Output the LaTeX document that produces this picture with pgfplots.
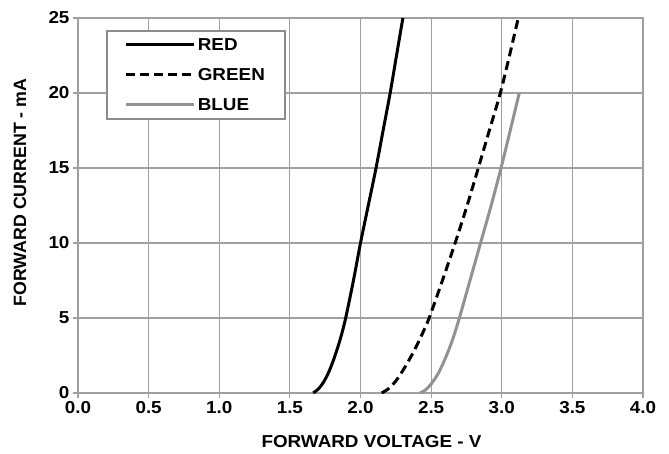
\documentclass[border=0pt]{standalone}
\usepackage{pgfplots}
\pgfplotsset{compat=1.18}
\usepackage{fontspec}
\setmainfont{Liberation Sans}[FakeStretch=1.09]
\newfontfamily\ylabfont{Liberation Sans}
\definecolor{gridgray}{HTML}{A0A0A0}
\definecolor{bluegray}{HTML}{929292}
\definecolor{leggray}{HTML}{8C8C8C}
\begin{document}
\begin{tikzpicture}
\begin{axis}[
  at={(0,0)}, anchor=south west,
  scale only axis, width=565bp, height=375bp,
  xmin=0, xmax=4, ymin=0, ymax=25,
  xtick={0,0.5,1,1.5,2,2.5,3,3.5,4},
  ytick={0,5,10,15,20,25},
  xtick pos=left, ytick pos=left,
  grid=major,
  major grid style={gridgray, line width=1.2bp},
  axis line style={gridgray, line width=1.2bp},
  tick style={gridgray, line width=1.2bp},
  tick align=outside, major tick length=5bp,
  font=\fontsize{17.3bp}{20bp}\selectfont\bfseries,
  /pgf/number format/assume math mode=true,
  xticklabel style={/pgf/number format/.cd, fixed, fixed zerofill, precision=1},
  xlabel={FORWARD VOLTAGE - V},
  ylabel={\ylabfont\fontsize{17.8bp}{20bp}\selectfont\bfseries FORWARD CURRENT - mA},
  xlabel style={at={(axis description cs:0.5195,-0.130)}, anchor=center},
  ylabel style={at={(axis description cs:-0.1027,0.5347)}, anchor=center},
  legend cell align=left,
  legend image code/.code={\draw[#1] (0bp,0bp) -- (68bp,0bp);},
  legend style={at={(axis description cs:0.0496,0.968)}, anchor=north west,
    draw=leggray, line width=1.6bp, fill=white,
    inner xsep=18bp, inner ysep=5.5bp, row sep=12.5bp,
    /tikz/every even column/.append style={column sep=3bp},
    font=\fontsize{17.3bp}{20bp}\selectfont\bfseries},
]
\addplot[black, line width=3bp, smooth, tension=0.5] coordinates {
 (1.665,0) (1.70,0.25) (1.74,0.75) (1.78,1.5) (1.82,2.5) (1.86,3.7) (1.895,5)
 (1.95,7.5) (2.00,10) (2.055,12.5) (2.11,15) (2.16,17.5) (2.21,20)
 (2.255,22.5) (2.30,25)};
\addlegendentry{RED}
\addplot[black, line width=3bp, dash pattern=on 9bp off 5bp, smooth, tension=0.5] coordinates {
 (2.150,0) (2.20,0.3) (2.25,0.8) (2.30,1.5) (2.35,2.3) (2.40,3.2) (2.45,4.2) (2.49,5.1)
 (2.58,7.5) (2.67,10) (2.755,12.5) (2.834,15) (2.912,17.5)
 (2.99,20) (3.055,22.5) (3.117,25)};
\addlegendentry{GREEN}
\addplot[bluegray, line width=3bp, smooth, tension=0.5] coordinates {
 (2.42,0) (2.46,0.2) (2.50,0.6) (2.55,1.3) (2.60,2.3) (2.65,3.5) (2.70,5)
 (2.775,7.5) (2.85,10) (2.925,12.5) (2.995,15) (3.06,17.5) (3.124,20)};
\addlegendentry{BLUE}
\end{axis}
\pgfresetboundingbox
\path[use as bounding box] (-78bp,-61bp) rectangle (591bp,393bp);
\end{tikzpicture}
\end{document}
